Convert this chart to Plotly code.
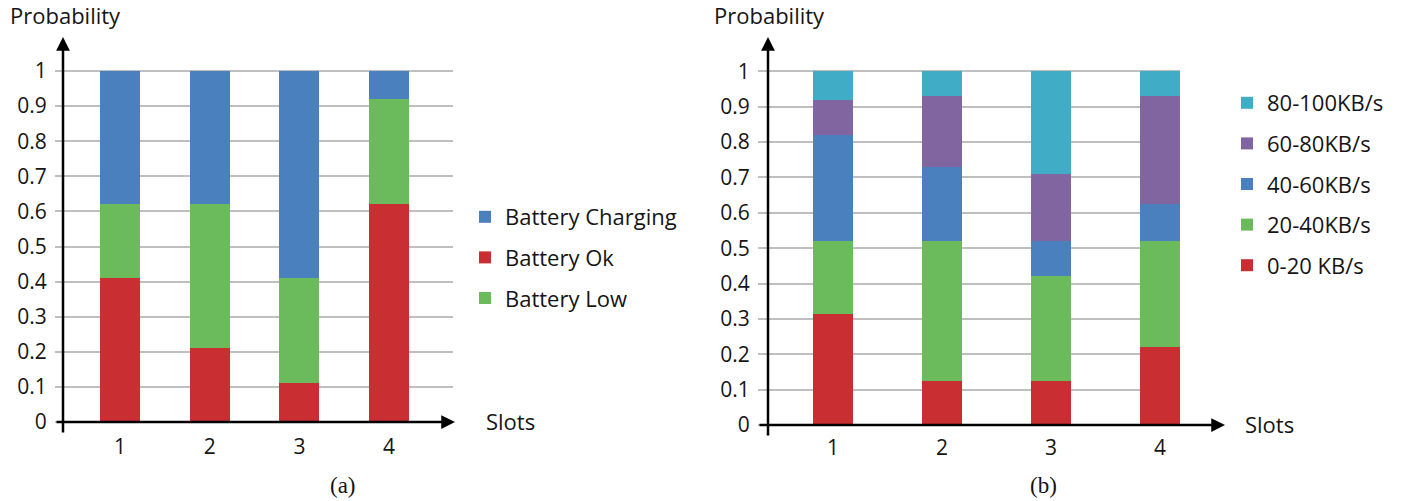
import plotly.graph_objects as go

W, H = 1413, 501

# ---------------- data ----------------
slots = [1, 2, 3, 4]
slot_labels = ["1", "2", "3", "4"]

battery_ok = [0.41, 0.21, 0.11, 0.62]
battery_low = [0.21, 0.41, 0.30, 0.30]
battery_charging = [0.38, 0.38, 0.59, 0.08]

bw_0_20 = [0.315, 0.125, 0.125, 0.22]
bw_20_40 = [0.205, 0.395, 0.295, 0.30]
bw_40_60 = [0.30, 0.21, 0.10, 0.105]
bw_60_80 = [0.10, 0.20, 0.19, 0.305]
bw_80_100 = [0.08, 0.07, 0.29, 0.07]

y_ticks = [0, 0.1, 0.2, 0.3, 0.4, 0.5, 0.6, 0.7, 0.8, 0.9, 1]
y_tick_labels = ["0", "0.1", "0.2", "0.3", "0.4", "0.5", "0.6", "0.7", "0.8", "0.9", "1"]

RED = "#C92E32"
GREEN = "#6BBA5B"
BLUE = "#4A80BE"
PURPLE = "#8065A0"
CYAN = "#41ACC6"

FONT = "Open Sans"
FS = 22
TFS = 21
TXT = "#151515"


def px(x):
    return x / W


def py(y):
    return 1 - y / H


fig = go.Figure()

# ---------- left chart (a) ----------
left = [
    ("Battery Ok", battery_ok, RED, 2),
    ("Battery Low", battery_low, GREEN, 3),
    ("Battery Charging", battery_charging, BLUE, 1),
]
for name, vals, col, rank in left:
    fig.add_trace(go.Bar(
        x=slots, y=vals, name=name, marker=dict(color=col, line=dict(width=0)),
        width=0.446, xaxis="x", yaxis="y", legend="legend",
        legendgroup=name, legendrank=rank,
    ))

# ---------- right chart (b) ----------
right = [
    ("0-20 KB/s", bw_0_20, RED, 5),
    ("20-40KB/s", bw_20_40, GREEN, 4),
    ("40-60KB/s", bw_40_60, BLUE, 3),
    ("60-80KB/s", bw_60_80, PURPLE, 2),
    ("80-100KB/s", bw_80_100, CYAN, 1),
]
for name, vals, col, rank in right:
    fig.add_trace(go.Bar(
        x=slots, y=vals, name=name, marker=dict(color=col, line=dict(width=0)),
        width=0.367, xaxis="x2", yaxis="y2", legend="legend2",
        legendgroup=name, legendrank=rank,
    ))

axis_common = dict(
    showline=False, zeroline=False, automargin=False,
    tickfont=dict(family=FONT, size=TFS, color=TXT),
    fixedrange=True,
)

fig.update_layout(
    template="none",
    width=W, height=H, autosize=False,
    margin=dict(l=0, r=0, t=0, b=0, pad=0, autoexpand=False),
    paper_bgcolor="white", plot_bgcolor="rgba(0,0,0,0)",
    barmode="stack", bargap=0,
    showlegend=True,
    xaxis=dict(domain=[px(55), px(453)], range=[0.2754, 4.7124], anchor="y",
               tickvals=slots, ticktext=slot_labels, showgrid=False,
               ticks="outside", ticklen=1, tickcolor="rgba(0,0,0,0)", **axis_common),
    yaxis=dict(domain=[py(427), py(37)], range=[-0.01425, 1.0969], anchor="x",
               tickvals=y_ticks, ticktext=y_tick_labels, showgrid=True,
               gridcolor="#BFBFBF", gridwidth=2,
               ticks="outside", ticklen=3, tickcolor="rgba(0,0,0,0)", **axis_common),
    xaxis2=dict(domain=[px(758), px(1180)], range=[0.3119, 4.1835], anchor="y2",
                tickvals=slots, ticktext=slot_labels, showgrid=False,
                ticks="outside", ticklen=1, tickcolor="rgba(0,0,0,0)", **axis_common),
    yaxis2=dict(domain=[py(428), py(37)], range=[-0.0085, 1.097], anchor="x2",
                tickvals=y_ticks, ticktext=y_tick_labels, showgrid=True,
                gridcolor="#BFBFBF", gridwidth=2,
                ticks="outside", ticklen=3, tickcolor="rgba(0,0,0,0)", **axis_common),
    legend=dict(x=px(465), y=py(196), xanchor="left", yanchor="top",
                font=dict(family=FONT, size=FS, color=TXT),
                tracegroupgap=9, bgcolor="rgba(0,0,0,0)", borderwidth=0),
    legend2=dict(x=px(1227), y=py(82), xanchor="left", yanchor="top",
                 font=dict(family=FONT, size=FS, color=TXT),
                 tracegroupgap=9, bgcolor="rgba(0,0,0,0)", borderwidth=0),
)

# axis arrows (decoration, paper coordinates)
arrows = [
    (63, 37, 0, 397),     # left y axis
    (455, 422, -400, 0),  # left x axis
    (768, 37, 0, 400),    # right y axis
    (1225, 425, -467, 0), # right x axis
]
for hx, hy, ax, ay in arrows:
    fig.add_annotation(x=px(hx), y=py(hy), xref="paper", yref="paper",
                       ax=ax, ay=ay, axref="pixel", ayref="pixel",
                       text="", showarrow=True, arrowhead=2, arrowsize=1.1,
                       arrowwidth=2.5, arrowcolor="black", standoff=0)

texts = [
    ("Probability", 8, 15, "left", FONT, FS),
    ("Probability", 712, 15, "left", FONT, FS),
    ("Slots", 484, 421, "left", FONT, FS),
    ("Slots", 1243, 424, "left", FONT, FS),
    ("(a)", 343, 485, "center", "Liberation Serif", 23),
    ("(b)", 1043, 485, "center", "Liberation Serif", 23),
]
for t, x, y, anc, fam, fs in texts:
    fig.add_annotation(x=px(x), y=py(y), xref="paper", yref="paper", text=t,
                       showarrow=False, xanchor=anc, yanchor="middle",
                       font=dict(family=fam, size=fs, color=TXT))

post = (
    "document.body.style.margin='0';"
    "document.documentElement.style.overflow='hidden';"
    "document.body.style.overflow='hidden';"
)
fig.write_html("out.html", post_script=post,
               config={"responsive": False, "displayModeBar": False})
